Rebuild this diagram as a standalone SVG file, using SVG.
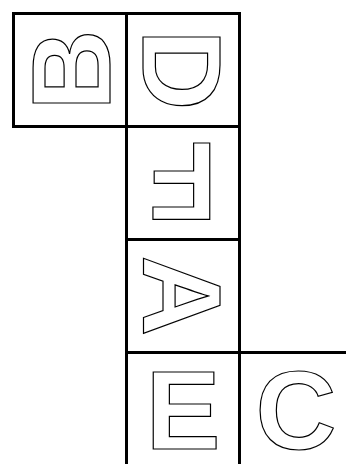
<svg xmlns="http://www.w3.org/2000/svg" width="346" height="464" viewBox="0 0 346 464">
<style>
.cell{fill:#fff;stroke:#000;stroke-width:3}
.lt{font-family:"Liberation Sans",Arial,sans-serif;font-weight:bold;font-size:112px;fill:#fff;stroke:#000;stroke-width:1.2;text-anchor:middle}
</style>
<rect width="346" height="464" fill="#fff"/>
<g id="connectors"></g>
<g id="B"><rect class="cell" x="13.5" y="13.5" width="113" height="113"/><text class="lt" x="70" y="110" transform="rotate(-90 70 70)">B</text></g>
<g id="D"><rect class="cell" x="126.5" y="13.5" width="113" height="113"/><text class="lt" x="183" y="110" transform="rotate(90 183 70)">D</text></g>
<g id="F"><rect class="cell" x="126.5" y="126.5" width="113" height="113"/><text class="lt" x="183" y="223" transform="rotate(180 183 183)">F</text></g>
<g id="A"><rect class="cell" x="126.5" y="239.5" width="113" height="113"/><text class="lt" x="183" y="336" transform="rotate(90 183 296)">A</text></g>
<g id="E"><rect class="cell" x="126.5" y="352.5" width="113" height="113"/><text class="lt" x="183" y="449">E</text></g>
<g id="C"><rect class="cell" x="239.5" y="352.5" width="113" height="113"/><text class="lt" x="296" y="449">C</text></g>
</svg>
